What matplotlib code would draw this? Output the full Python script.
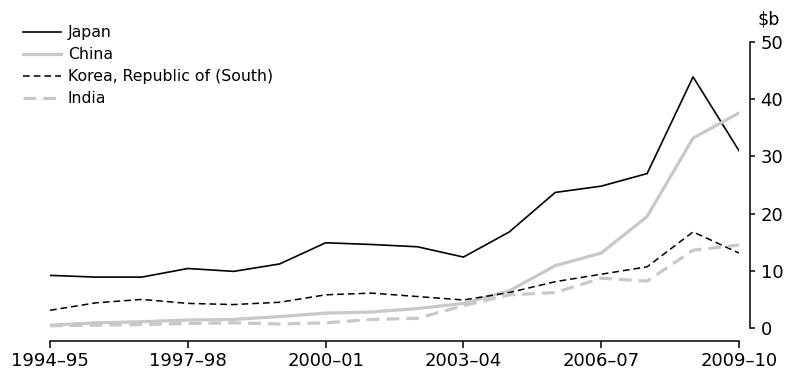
import matplotlib.pyplot as plt
import numpy as np

years = ["1994–95", "1995–96", "1996–97", "1997–98", "1998–99", "1999–00",
         "2000–01", "2001–02", "2002–03", "2003–04", "2004–05", "2005–06",
         "2006–07", "2007–08", "2008–09", "2009–10"]

japan = [9.2, 8.9, 8.9, 10.4, 9.9, 11.2, 14.9, 14.6, 14.2, 12.4, 16.8, 23.7, 24.8, 27.0, 43.9, 31.0]
china = [0.5, 0.9, 1.1, 1.4, 1.5, 2.0, 2.6, 2.8, 3.4, 4.3, 6.5, 10.9, 13.1, 19.5, 33.2, 37.6]
korea = [3.1, 4.4, 5.0, 4.3, 4.1, 4.5, 5.8, 6.1, 5.5, 4.9, 6.2, 8.1, 9.4, 10.7, 16.8, 13.1]
india = [0.4, 0.5, 0.6, 0.8, 0.9, 0.7, 0.9, 1.5, 1.7, 3.9, 5.8, 6.2, 8.7, 8.2, 13.6, 14.5]

tick_idx = [0, 3, 6, 9, 12, 15]
grey = "#c8c8c8"

plt.rcParams["font.family"] = "DejaVu Sans"

fig = plt.figure(figsize=(7.86, 3.71), dpi=100)
ax = fig.add_axes([50 / 786, 43 / 371, 689 / 786, 286 / 371])

x = np.arange(len(years))
ax.plot(x, japan, color="black", lw=1.2, label="Japan")
ax.plot(x, china, color=grey, lw=2.3, label="China")
ax.plot(x, korea, color="black", lw=1.1, dashes=(4.4, 2.6), label="Korea, Republic of (South)")
ax.plot(x, india, color=grey, lw=2.3, dashes=(4.0, 2.2), label="India")

ax.set_xlim(0, 15)
ax.set_ylim(0, 50)

for side in ["top", "left"]:
    ax.spines[side].set_visible(False)
ax.spines["bottom"].set_position(("outward", 9))
ax.spines["right"].set_position(("outward", 8))
ax.spines["bottom"].set_linewidth(1.1)
ax.spines["right"].set_linewidth(1.1)

ax.set_xticks(tick_idx)
ax.set_xticklabels([years[i] for i in tick_idx])
ax.set_yticks([0, 10, 20, 30, 40, 50])
ax.yaxis.tick_right()
ax.tick_params(axis="x", direction="out", length=5, width=1.1, labelsize=13, pad=3)
ax.tick_params(axis="y", direction="out", length=3.5, width=1.1, labelsize=13, pad=4)

ax.annotate("$b", xy=(1, 1), xycoords="axes fraction", xytext=(13, 10),
            textcoords="offset points", fontsize=12.5, ha="left", va="bottom")

ax.legend(loc="upper left", bbox_to_anchor=(23 / 786, 1 - 25 / 371),
          bbox_transform=fig.transFigure, frameon=False, fontsize=11.3,
          handlelength=2.4, handletextpad=0.45, labelspacing=0.45,
          borderpad=0, borderaxespad=0)

fig.savefig("out.png", dpi=100)
